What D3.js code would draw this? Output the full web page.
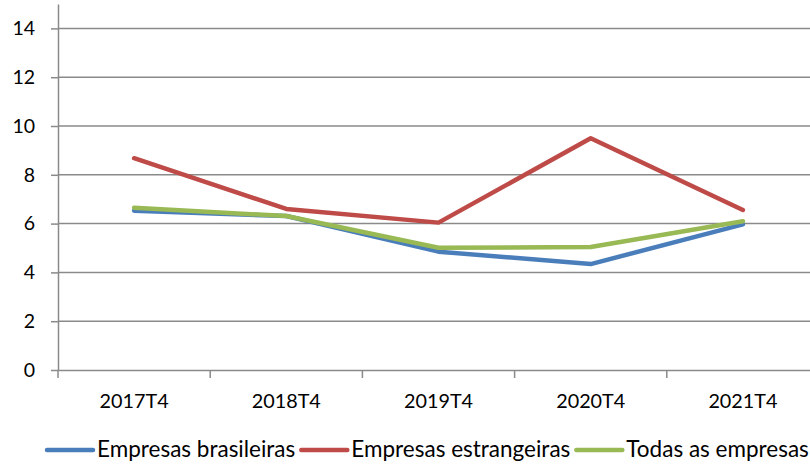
<!DOCTYPE html>
<html><head><meta charset="utf-8">
<script src="https://cdn.jsdelivr.net/npm/d3@7"></script>
<style>body{margin:0;background:#fff}svg{display:block}text{font-family:Lato,"Open Sans",sans-serif;fill:#000}</style>
</head><body><svg id="c" width="810" height="465"></svg>
<script>
const categories = ["2017T4","2018T4","2019T4","2020T4","2021T4"];
const seriesNames = ["Empresas brasileiras","Empresas estrangeiras","Todas as empresas"];
const brasileiras = [6.53, 6.31, 4.85, 4.34, 5.97];
const estrangeiras = [8.68, 6.6, 6.04, 9.5, 6.56];
const todas = [6.65, 6.31, 5.01, 5.04, 6.1];
const yTicks = [0,2,4,6,8,10,12,14];
const colors = ["#4a7ebb","#be4b48","#98b954"];

(function(){
const svg = d3.select("#c");
const mLeft = 58, mRight = 819, mTop = 4, mBottom = 370;
const x = d3.scaleBand().domain(categories).range([mLeft, mRight]);
const y = d3.scaleLinear().domain([0, 15]).range([mBottom, mTop]);
const grey = "#8a8a8a";

// gridlines
svg.append("g").selectAll("line").data(yTicks.slice(1)).join("line")
  .attr("x1", mLeft).attr("x2", 810).attr("y1", d=>y(d)).attr("y2", d=>y(d))
  .attr("stroke", grey).attr("stroke-width", 1.5);

// y axis
const ya = svg.append("g").attr("transform", `translate(${mLeft},0)`)
  .call(d3.axisLeft(y).tickValues(yTicks).tickSize(7).tickPadding(16).tickSizeOuter(0));
ya.select(".domain").attr("stroke", grey).attr("stroke-width", 1.5);
ya.selectAll(".tick line").attr("stroke", grey).attr("stroke-width", 1.5);
ya.selectAll("text").attr("font-size", 19.5).style("font-family", "Lato");

// x axis
const xa = svg.append("g").attr("transform", `translate(0,${mBottom})`)
  .call(d3.axisBottom(x).tickSize(0).tickPadding(24));
xa.select(".domain").attr("stroke", grey).attr("stroke-width", 1.5);
xa.selectAll("text").attr("font-size", 19.8).style("font-family", "Lato");
svg.append("g").selectAll("line").data(categories).join("line")
  .attr("x1", d=>x(d)).attr("x2", d=>x(d)).attr("y1", mBottom).attr("y2", mBottom+8)
  .attr("stroke", grey).attr("stroke-width", 1.5);

const data = [brasileiras, estrangeiras, todas];
const line = d3.line().x((d,i)=>x(categories[i]) + x.bandwidth()/2).y(d=>y(d));
data.forEach((s, k) => {
  svg.append("path").datum(s).attr("d", line).attr("fill", "none")
    .attr("stroke", colors[k]).attr("stroke-width", 4.5)
    .attr("stroke-linecap", "round").attr("stroke-linejoin", "round");
});

// legend
const lg = svg.append("g").attr("transform", "translate(0,450)");
let lx = 47;
seriesNames.forEach((n, k) => {
  lg.append("line").attr("x1", lx).attr("x2", lx+46).attr("y1", 0).attr("y2", 0)
    .attr("stroke", colors[k]).attr("stroke-width", 4.5).attr("stroke-linecap", "round");
  const t = lg.append("text").attr("x", lx+50).attr("y", 7).attr("font-size", 22.5).text(n);
  lx = lx + 50 + t.node().getComputedTextLength() + 6;
});
})();
</script></body></html>
